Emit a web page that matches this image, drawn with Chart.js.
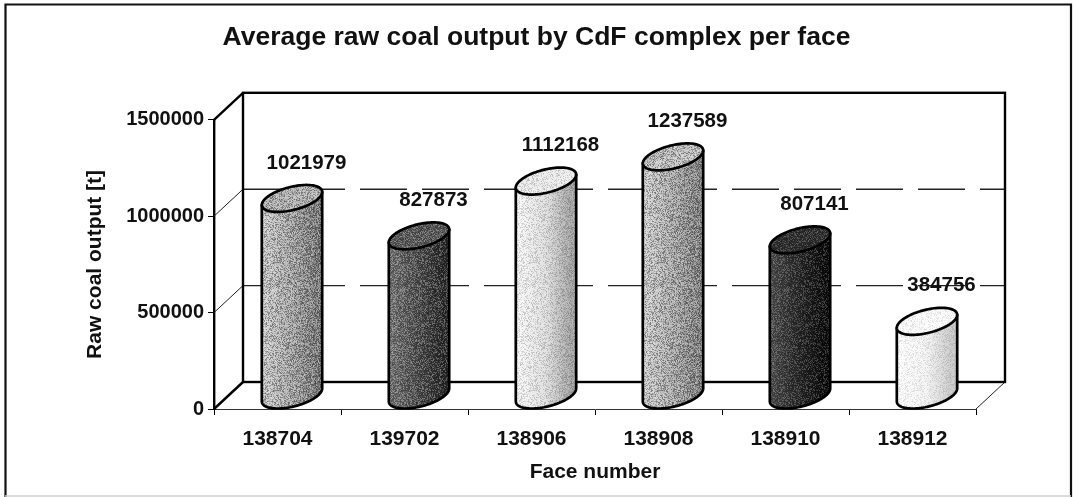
<!DOCTYPE html>
<html>
<head>
<meta charset="utf-8">
<script src="https://cdn.jsdelivr.net/npm/chart.js@4.4.1/dist/chart.umd.min.js"></script>
<style>
  html, body { margin: 0; padding: 0; background: #ffffff; }
  #wrap { width: 1073px; height: 497px; }
</style>
</head>
<body>
<div id="wrap"><canvas id="c" width="1073" height="497"></canvas></div>
<script>
// ---- data ----
const faces = ['138704', '139702', '138906', '138908', '138910', '138912'];
const rawCoalOutput = [1021979, 827873, 1112168, 1237589, 807141, 384756];
const titleText = 'Average raw coal output by CdF complex per face';
const xTitle = 'Face number';
const yTitle = 'Raw coal output [t]';

// ---- styles ----
const bodyShades = [
  ['#d0d0d0', '#a4a4a4', '#787878'],
  ['#767676', '#484848', '#262626'],
  ['#fbfbfb', '#e0e0e0', '#a6a6a6'],
  ['#d4d4d4', '#a9a9a9', '#818181'],
  ['#4c4c4c', '#222222', '#0a0a0a'],
  ['#ffffff', '#f4f4f4', '#cbcbcb']
];
const capShades = ['#b0b0b0', '#565656', '#eeeeee', '#c0c0c0', '#2a2a2a', '#fcfcfc'];
const noiseStrength = [0.42, 0.34, 0.22, 0.42, 0.26, 0.13];
const FONT = '"Liberation Sans", Arial, Helvetica, sans-serif';
const DX = 29, DY = -27;   // 3-D depth offset

function hash(x, y) {
  let h = (Math.imul(x, 374761393) + Math.imul(y, 668265263)) | 0;
  h = Math.imul(h ^ (h >>> 13), 1274126177);
  h = h ^ (h >>> 16);
  return (h >>> 0) / 4294967295;
}
function makeNoise() {
  const s = 128;
  const c = document.createElement('canvas');
  c.width = s; c.height = s;
  const g = c.getContext('2d');
  const img = g.createImageData(s, s);
  for (let yy = 0; yy < s; yy++) {
    for (let xx = 0; xx < s; xx++) {
      const n = hash(xx, yy);
      const k = (yy * s + xx) * 4;
      const v = n < 0.5 ? 0 : 255;
      img.data[k] = v; img.data[k + 1] = v; img.data[k + 2] = v;
      img.data[k + 3] = Math.round(Math.abs(n - 0.5) * 2 * 255);
    }
  }
  g.putImageData(img, 0, 0);
  return c;
}
const noiseCanvas = makeNoise();

function seg(ctx, x1, y1, x2, y2) {
  ctx.beginPath(); ctx.moveTo(x1, y1); ctx.lineTo(x2, y2); ctx.stroke();
}

const threeD = {
  id: 'threeD',
  beforeDraw(chart) {
    const ctx = chart.ctx;
    ctx.save();
    ctx.fillStyle = '#ffffff';
    ctx.fillRect(0, 0, chart.width, chart.height);
    ctx.strokeStyle = '#111';
    ctx.lineWidth = 2.2;
    ctx.beginPath();
    ctx.moveTo(5.5, 497); ctx.lineTo(5.5, 4.5); ctx.lineTo(1071, 4.5); ctx.lineTo(1071, 497);
    ctx.stroke();
    ctx.strokeStyle = '#cfcfcf';
    ctx.lineWidth = 1.5;
    seg(ctx, 5, 496, 1071, 496);
    ctx.restore();
  },
  beforeDatasetsDraw(chart) {
    const { ctx, chartArea: ca, scales } = chart;
    const y = scales.y;
    const L = ca.left, R = ca.right, T = ca.top, B = ca.bottom;
    ctx.save();
    ctx.lineCap = 'butt';
    ctx.setLineDash([47, 15]);
    ctx.lineDashOffset = 7;
    ctx.strokeStyle = '#222';
    ctx.lineWidth = 1.4;
    y.ticks.forEach(t => {
      if (t.value > y.min && t.value < y.max) {
        const py = y.getPixelForValue(t.value) + DY;
        seg(ctx, L + DX, py, R + DX, py);
      }
    });
    ctx.setLineDash([]);
    ctx.strokeStyle = '#222';
    ctx.lineWidth = 1;
    y.ticks.forEach(t => {
      if (t.value > y.min && t.value < y.max) {
        const py = y.getPixelForValue(t.value);
        seg(ctx, L, py, L + DX, py + DY);
      }
    });
    seg(ctx, R, B, R + DX, B + DY);
    ctx.strokeStyle = '#000';
    ctx.lineWidth = 2.4;
    ctx.lineJoin = 'miter';
    ctx.strokeRect(L + DX, T + DY, R - L, B - T);
    seg(ctx, L, B, L + DX, B + DY);
    seg(ctx, L, T, L + DX, T + DY);
    ctx.restore();
  },
  afterDatasetsDraw(chart) {
    const ctx = chart.ctx;
    const meta = chart.getDatasetMeta(0);
    const pattern = ctx.createPattern(noiseCanvas, 'repeat');
    meta.data.forEach((el, i) => {
      const p = el.getProps(['x', 'y', 'base', 'width'], true);
      const a = p.width / 2, b = DX / 2, c = DY / 2;
      const cx = p.x + DX / 2;
      const topY = p.y + DY / 2, botY = p.base + DY / 2;
      const P = (t, cy) => [cx + a * Math.cos(t) + b * Math.sin(t), cy + c * Math.sin(t)];
      const t0 = Math.atan2(b, a);
      const hw = Math.sqrt(a * a + b * b);
      const N = 48;
      ctx.save();
      ctx.beginPath();
      let q = P(t0 + Math.PI, topY); ctx.moveTo(q[0], q[1]);
      q = P(t0, topY); ctx.lineTo(q[0], q[1]);
      for (let k = 0; k <= N; k++) {
        q = P(t0 - Math.PI * k / N, botY); ctx.lineTo(q[0], q[1]);
      }
      ctx.closePath();
      const sh = bodyShades[i];
      const gr = ctx.createLinearGradient(cx - hw, 0, cx + hw, 0);
      gr.addColorStop(0, sh[0]);
      gr.addColorStop(0.5, sh[1]);
      gr.addColorStop(0.9, sh[2]);
      gr.addColorStop(1, sh[2]);
      ctx.fillStyle = gr;
      ctx.fill();
      ctx.globalAlpha = noiseStrength[i];
      ctx.fillStyle = pattern;
      ctx.fill();
      ctx.globalAlpha = 1;
      ctx.strokeStyle = '#000';
      ctx.lineWidth = 2.7;
      ctx.lineJoin = 'round';
      ctx.stroke();
      ctx.beginPath();
      for (let k = 0; k <= 2 * N; k++) {
        q = P(Math.PI * k / N, topY);
        if (k === 0) ctx.moveTo(q[0], q[1]); else ctx.lineTo(q[0], q[1]);
      }
      ctx.closePath();
      ctx.fillStyle = capShades[i];
      ctx.fill();
      ctx.globalAlpha = noiseStrength[i];
      ctx.fillStyle = pattern;
      ctx.fill();
      ctx.globalAlpha = 1;
      ctx.stroke();
      ctx.restore();
    });
    ctx.save();
    ctx.font = 'bold 20.5px ' + FONT;
    ctx.fillStyle = '#111';
    ctx.textAlign = 'center';
    ctx.textBaseline = 'middle';
    meta.data.forEach((el, i) => {
      const p = el.getProps(['x', 'y'], true);
      ctx.fillText(String(rawCoalOutput[i]), p.x + DX, p.y + DY - 22);
    });
    ctx.restore();
  }
};

Chart.defaults.font.family = FONT;
Chart.defaults.color = '#111';

new Chart(document.getElementById('c'), {
  type: 'bar',
  data: {
    labels: faces,
    datasets: [{
      data: rawCoalOutput,
      backgroundColor: 'rgba(0,0,0,0)',
      borderWidth: 0,
      categoryPercentage: 1,
      barPercentage: 0.417,
      yAxisID: 'y'
    }]
  },
  options: {
    responsive: false,
    animation: false,
    devicePixelRatio: 1,
    layout: { padding: { left: 0, right: 0, top: 0, bottom: 0 } },
    plugins: {
      legend: { display: false },
      tooltip: { enabled: false },
      title: {
        display: true,
        text: titleText,
        color: '#111',
        font: { size: 26.5, weight: 'bold', family: FONT },
        padding: { top: 22, bottom: 66 }
      }
    },
    scales: {
      x: {
        afterFit(scale) { scale.height = 88; },
        grid: { display: true, drawOnChartArea: false, drawTicks: true, tickLength: 6, color: '#000', lineWidth: 1 },
        border: { display: true, color: '#333', width: 1 },
        ticks: { font: { size: 21, weight: 'bold' }, color: '#111', padding: 12, maxRotation: 0 },
        title: { display: true, text: xTitle, color: '#111', font: { size: 21, weight: 'bold' }, padding: { top: 0, bottom: 12 } }
      },
      y: {
        min: 0,
        max: 1500000,
        afterFit(scale) { scale.width = 214; },
        grid: { display: true, drawOnChartArea: false, drawTicks: true, tickLength: 6, color: '#000', lineWidth: 1 },
        border: { display: true, color: '#000', width: 2.4 },
        ticks: { stepSize: 500000, font: { size: 20, weight: 'bold' }, color: '#111', padding: 4, callback: v => String(v) },
        title: { display: true, text: yTitle, color: '#111', font: { size: 21, weight: 'bold' }, padding: { top: 83, bottom: 0 } }
      },
      yRightGap: {
        type: 'linear',
        position: 'right',
        min: 0,
        max: 1,
        afterFit(scale) { scale.width = 97; },
        grid: { display: false, drawTicks: false },
        border: { display: false },
        ticks: { display: false },
        title: { display: false }
      }
    }
  },
  plugins: [threeD]
});
</script>
</body>
</html>
